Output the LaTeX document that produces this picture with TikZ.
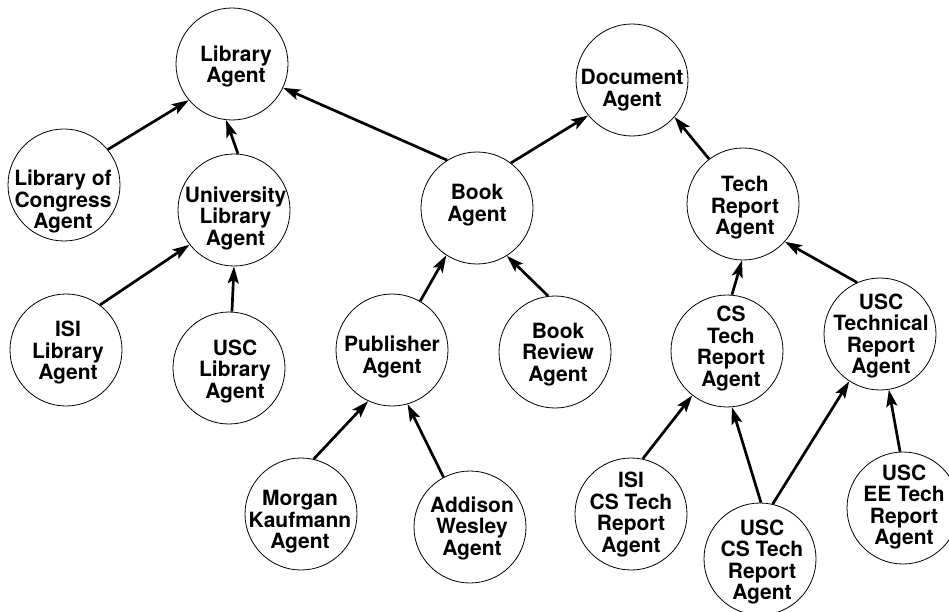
\documentclass[tikz,border=0pt]{standalone}
\usepackage{fontspec}
\setmainfont{TeX Gyre Heros}
\usetikzlibrary{arrows.meta}
\tikzset{
  agent/.style={circle, draw, line width=0.8pt, minimum size=112pt, inner sep=0pt},
  lbl/.style={align=center, inner sep=0pt, font=\fontsize{21}{21.5}\selectfont\bfseries},
  link/.style={line width=2.7pt, -{Stealth[length=17pt,width=11pt,inset=3.5pt]}}
}
\begin{document}
\begin{tikzpicture}[x=1pt,y=-1pt]
\useasboundingbox (0,0) rectangle (949,612);
% circles
\node[agent] (lib)    at (232,64)  {};
\node[agent] (doc)    at (632,80)  {};
\node[agent] (loc)    at (64,185)  {};
\node[agent] (univ)   at (234,210) {};
\node[agent] (book)   at (477,208) {};
\node[agent] (tech)   at (743,204) {};
\node[agent] (isilib) at (66,350)  {};
\node[agent] (usclib) at (229,368) {};
\node[agent] (pub)    at (392,350) {};
\node[agent] (br)     at (555,352) {};
\node[agent] (cs)     at (727,351) {};
\node[agent] (usct)   at (880,334) {};
\node[agent] (mk)     at (301,514) {};
\node[agent] (aw)     at (470,527) {};
\node[agent] (isics)  at (631,514) {};
\node[agent] (usccs)  at (760,559) {};
\node[agent] (ee)     at (903,508) {};
% labels
\node[lbl] (libT)    at (236,66.5)  {Library\\Agent};
\node[lbl] (docT)    at (632,90)    {Document\\Agent};
\node[lbl] (locT)    at (63,201.5)  {Library of\\Congress\\Agent};
\node[lbl] (univT)   at (235.5,218) {University\\Library\\Agent};
\node[lbl] (bookT)   at (477,205)   {Book\\Agent};
\node[lbl] (techT)   at (745,208)   {Tech\\Report\\Agent};
\node[lbl] (isilibT) at (68,353)    {ISI\\Library\\Agent};
\node[lbl] (usclibT) at (235,371.5) {USC\\Library\\Agent};
\node[lbl] (pubT)    at (392,357)   {Publisher\\Agent};
\node[lbl] (brT)     at (558,354.5) {Book\\Review\\Agent};
\node[lbl] (csT)     at (731,348.5) {CS\\Tech\\Report\\Agent};
\node[lbl] (usctT)   at (881,336)   {USC\\Technical\\Report\\Agent};
\node[lbl] (mkT)     at (300,522)   {Morgan\\Kaufmann\\Agent};
\node[lbl] (awT)     at (472,528)   {Addison\\Wesley\\Agent};
\node[lbl] (isicsT)  at (631,514.5) {ISI\\CS Tech\\Report\\Agent};
\node[lbl] (usccsT)  at (762,562)   {USC\\CS Tech\\Report\\Agent};
\node[lbl] (eeT)     at (904,507)   {USC\\EE Tech\\Report\\Agent};
% links
\draw[link] (loc.39)     -- (lib.220);
\draw[link] (univ.86)    -- (lib.264);
\draw[link] (book.122)   -- (lib.-25.6);
\draw[link] (book.53.5)  -- (doc.219.7);
\draw[link] (tech.127.7) -- (doc.-41.6);
\draw[link] (isilib.53)  -- (univ.218);
\draw[link] (usclib.87)  -- (univ.270);
\draw[link] (pub.60.8)   -- (book.237);
\draw[link] (br.97.5)    -- (book.-58.8);
\draw[link] (mk.77)      -- (pub.245);
\draw[link] (aw.118)     -- (pub.-74);
\draw[link] (cs.85)      -- (tech.269);
\draw[link] (usct.114)   -- (tech.-42);
\draw[link] (isics.78)   -- (cs.232);
\draw[link] (usccs.89)   -- (cs.275);
\draw[link] (usccs.77)   -- (usct.237.5);
\draw[link] (ee.93)      -- (usct.279);
\end{tikzpicture}
\end{document}
